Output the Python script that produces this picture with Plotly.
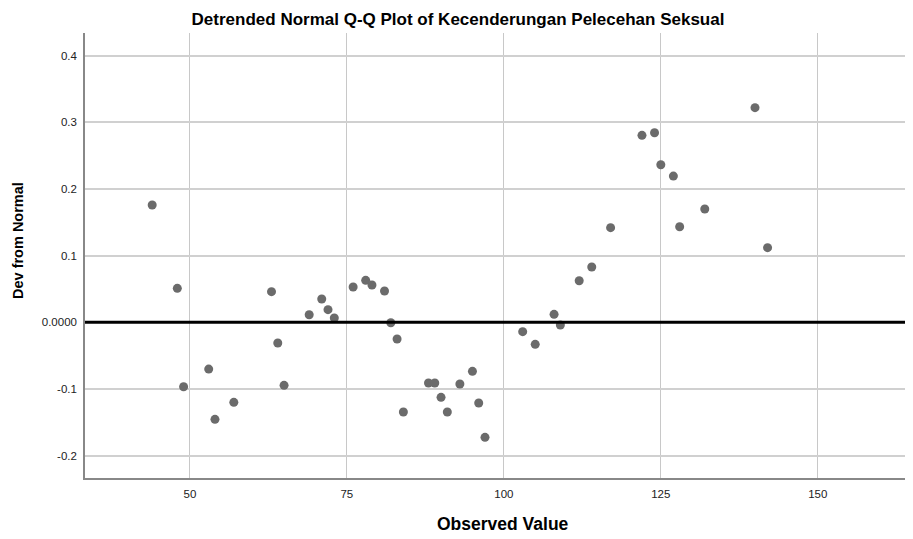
import plotly.graph_objects as go

observed = [44, 48, 49, 53, 54, 57, 63, 64, 65, 69, 71, 72, 73, 76, 78, 79, 81, 82,
            83, 84, 88, 89, 90, 91, 93, 95, 96, 97, 103, 105, 108, 109, 112, 114,
            117, 122, 124, 125, 127, 128, 132, 140, 142]
dev_from_normal = [0.176, 0.051, -0.0966, -0.0701, -0.1455, -0.120, 0.046, -0.031,
                   -0.0945, 0.0114, 0.035, 0.019, 0.0065, 0.053, 0.063, 0.056, 0.047,
                   -0.0006, -0.025, -0.1345, -0.091, -0.091, -0.1125, -0.1345, -0.0925,
                   -0.0735, -0.121, -0.1725, -0.014, -0.033, 0.012, -0.004, 0.0624,
                   0.083, 0.142, 0.2805, 0.2844, 0.2364, 0.2194, 0.1434, 0.170, 0.322,
                   0.112]

x_ticks = [50, 75, 100, 125, 150]
y_ticks = [-0.2, -0.1, 0.0, 0.1, 0.2, 0.3, 0.4]
y_tick_labels = ["-0.2", "-0.1", "0.0000", "0.1", "0.2", "0.3", "0.4"]

font = "Liberation Sans, Arial, sans-serif"

# the page body adds an 8px margin, so the figure is a bit smaller than the window
W, H = 905, 531
ML, MR, MT, MB = 77, 1, 25, 61
pw = W - ML - MR
ph = H - MT - MB


def px_to_paper(x, y):
    # pixel position in the figure (from top-left) -> paper coords
    return (x - ML) / pw, (H - y - MB) / ph


fig = go.Figure()
fig.add_trace(go.Scatter(
    x=observed,
    y=dev_from_normal,
    mode="markers",
    marker=dict(size=9, color="#6b6b6b"),
    showlegend=False,
))

fig.add_hline(y=0, line=dict(color="black", width=3))

xt_x, xt_y = px_to_paper(495, 516)
yt_x, yt_y = px_to_paper(10, 233)

fig.update_layout(
    width=W,
    height=H,
    margin=dict(l=ML, r=MR, t=MT, b=MB),
    plot_bgcolor="white",
    paper_bgcolor="white",
    font=dict(family=font, size=11, color="#222222"),
    title=dict(
        text="Detrended Normal Q-Q Plot of Kecenderungan Pelecehan Seksual",
        x=(458 - 8) / W, xanchor="center", y=1 - 11 / H, yanchor="middle",
        font=dict(family=font, size=17, color="black", weight="bold"),
    ),
    xaxis=dict(
        range=[33.3, 165],
        tickvals=x_ticks,
        showgrid=True, gridcolor="#c8c8c8", gridwidth=1,
        showline=True, linecolor="#888888", linewidth=1.5,
        zeroline=False, ticks="", ticklabelstandoff=4,
        tickfont=dict(size=11.5, color="#222222"),
    ),
    yaxis=dict(
        range=[-0.2335, 0.434],
        tickvals=y_ticks,
        ticktext=y_tick_labels,
        showgrid=True, gridcolor="#d0d0d0", gridwidth=1.5,
        showline=True, linecolor="#888888", linewidth=1.5,
        zeroline=False, ticks="", ticklabelstandoff=4,
        tickfont=dict(size=11.5, color="#222222"),
    ),
    annotations=[
        dict(text="<b>Observed Value</b>", x=xt_x, y=xt_y, xref="paper", yref="paper",
             xanchor="center", yanchor="middle", showarrow=False,
             font=dict(family=font, size=17.5, color="black")),
        dict(text="<b>Dev from Normal</b>", x=yt_x, y=yt_y, xref="paper", yref="paper",
             xanchor="center", yanchor="middle", textangle=-90, showarrow=False,
             font=dict(family=font, size=14.5, color="black")),
    ],
)

fig.write_html("out.html")
